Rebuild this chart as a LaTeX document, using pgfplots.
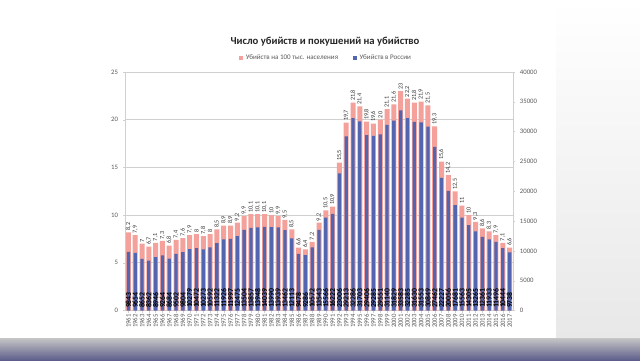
\documentclass[border=0pt]{standalone}
\usepackage{fontspec}
\setmainfont{Carlito}
\usepackage{pgfplots}
\pgfplotsset{compat=1.18}
\usepackage{pgfplotstable}

\definecolor{pinkbar}{HTML}{F4A19B}
\definecolor{bluebar}{HTML}{5465B0}
\definecolor{gridc}{HTML}{D0D0D0}
\definecolor{tickc}{HTML}{595959}

\pgfplotstableread{
i year rate ratelbl murders
1 1961 8.2 8,2 9843
2 1962 7.9 7,9 9654
3 1963 7.0 7 8652
4 1964 6.7 6,7 8362
5 1965 7.1 7,1 8946
6 1966 7.3 7,3 9264
7 1967 6.8 6,8 8684
8 1968 7.4 7,4 9502
9 1969 7.6 7,6 9804
10 1970 7.9 7,9 10279
11 1971 8.0 8 10472
12 1972 7.8 7,8 10273
13 1973 8.0 8 10592
14 1974 8.5 8,5 11322
15 1975 8.9 8,9 11926
16 1976 8.9 8,9 11997
17 1977 9.2 9,2 12475
18 1978 9.9 9,9 13504
19 1979 10.1 10,1 13857
20 1980 10.1 10,1 13948
21 1981 10.1 10,1 14039
22 1982 10.0 10 13990
23 1983 9.9 9,9 13939
24 1984 9.5 9,5 13462
25 1985 8.5 8,5 12113
26 1986 6.6 6,6 9478
27 1987 6.4 6,4 9286
28 1988 7.2 7,2 10572
29 1989 9.2 9,2 13543
30 1990 10.5 10,5 15566
31 1991 10.9 10,9 16222
32 1992 15.5 15,5 23006
33 1993 19.7 19,7 29213
34 1994 21.8 21,8 32286
35 1995 21.4 21,4 31703
36 1996 19.8 19,8 29406
37 1997 19.6 19,6 29285
38 1998 20.0 20 29551
39 1999 21.1 21,1 31140
40 2000 21.6 21,6 31829
41 2001 23.0 23 33583
42 2002 22.2 22,2 32285
43 2003 21.8 21,8 31630
44 2004 21.9 21,9 31553
45 2005 21.5 21,5 30849
46 2006 19.3 19,3 27462
47 2007 15.6 15,6 22227
48 2008 14.2 14,2 20056
49 2009 12.5 12,5 17681
50 2010 11.0 11 15563
51 2011 10.0 10 14305
52 2012 9.3 9,3 13265
53 2013 8.6 8,6 12361
54 2014 8.3 8,3 11933
55 2015 7.9 7,9 11496
56 2016 7.1 7,1 10444
57 2017 6.6 6,6 9738
}\data

\begin{document}
\begin{tikzpicture}
% background (slide + video frame)
\fill[white] (0,0) rectangle (16,-9);
\shade[top color=white, bottom color=gray!18] (13.9,0) rectangle (16,-8.45);
\shade[top color=gray!45, bottom color=gray!75!blue!80!black!90] (0,-8.45) rectangle (16,-9);

\node[font=\bfseries\fontsize{7.6}{8}\selectfont, text=black!85] at (8.125,-1.05) {Число убийств и покушений на убийство};

\begin{axis}[
  at={(3.125cm,-7.7625cm)}, anchor=south west,
  scale only axis, width=9.7cm, height=5.9625cm,
  xmin=0.5, xmax=57.5, ymin=0, ymax=25,
  enlargelimits=false,
  axis lines*=left,
  axis line style={gridc},
  ytick={0,5,...,25},
  ymajorgrids, grid style={gridc, line width=0.5pt},
  xtick={1,...,57},
  xticklabels from table={\data}{year},
  x tick label style={rotate=90, anchor=east, font=\fontsize{4.8}{5}\selectfont, text=tickc, inner sep=1pt},
  y tick label style={font=\fontsize{4.8}{5}\selectfont, text=tickc},
  tick style={gridc},
  tick align=outside, major tick length=0.05cm,
  /pgf/number format/assume math mode=true,
]
\addplot[ybar, bar width=0.125cm, fill=pinkbar, draw=none,
  nodes near coords, point meta=explicit symbolic,
  every node near coord/.style={rotate=90, anchor=west, font=\fontsize{4.4}{4.4}\selectfont, text=black!80, inner sep=1pt}]
  table[x=i, y=rate, meta=ratelbl] {\data};
\end{axis}

\begin{axis}[
  at={(3.125cm,-7.7625cm)}, anchor=south west,
  scale only axis, width=9.7cm, height=5.9625cm,
  xmin=0.5, xmax=57.5, ymin=0, ymax=40000,
  enlargelimits=false,
  axis x line=none,
  axis y line*=right,
  axis line style={gridc},
  ytick={0,5000,...,40000},
  scaled y ticks=false,
  y tick label style={font=\fontsize{4.8}{5}\selectfont, text=tickc, /pgf/number format/1000 sep={}},
  tick style={gridc},
  tick align=outside, major tick length=0.05cm,
  /pgf/number format/assume math mode=true,
  legend style={at={(0.519,1.059)}, anchor=center, draw=none, fill=none,
    font=\fontsize{5}{5}\selectfont, text=tickc, legend columns=2,
    /tikz/every even column/.append style={column sep=0.3cm}},
  legend image code/.code={\fill[#1] (0cm,-0.05cm) rectangle (0.1cm,0.05cm);},
]
\addlegendimage{fill=pinkbar, draw=none}
\addlegendentry{Убийств на 100 тыс. населения}
\addplot[ybar, bar width=0.0825cm, fill=bluebar, draw=none] table[x=i, y=murders] {\data};
\addlegendentry{Убийств в России}
\addplot[draw=none, mark=none, forget plot,
  nodes near coords, point meta=explicit symbolic,
  every node near coord/.style={rotate=90, anchor=west, font=\bfseries\fontsize{5.5}{5.5}\selectfont, text=black, inner sep=1.6pt}]
  table[x=i, y expr=0, meta=murders] {\data};
\end{axis}
\end{tikzpicture}
\end{document}
